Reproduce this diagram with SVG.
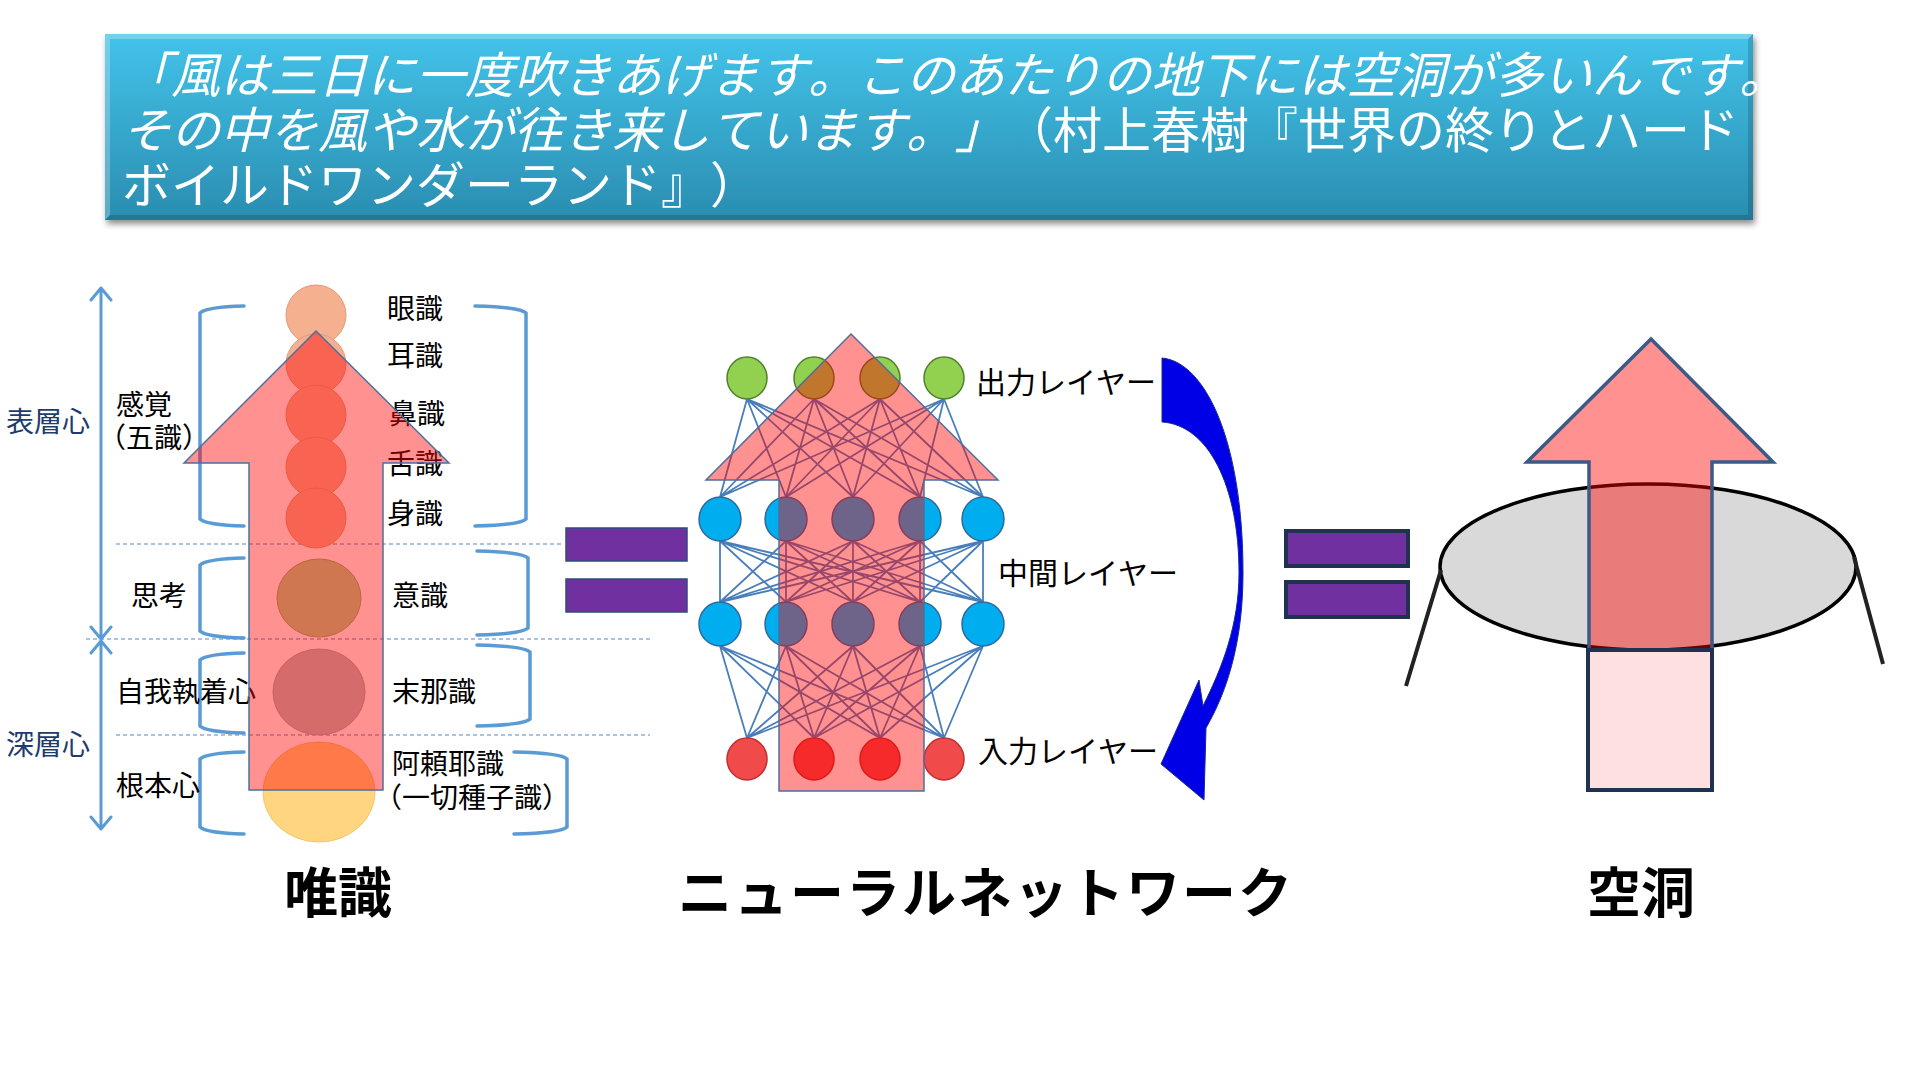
<svg xmlns="http://www.w3.org/2000/svg" width="1920" height="1080" viewBox="0 0 1920 1080">
<defs>
  <linearGradient id="bannerGrad" x1="0" y1="0" x2="0" y2="1">
    <stop offset="0" stop-color="#43c3ea"/>
    <stop offset="1" stop-color="#2a8db0"/>
  </linearGradient>
  <filter id="shadow" x="-5%" y="-10%" width="110%" height="130%">
    <feGaussianBlur in="SourceAlpha" stdDeviation="3"/>
    <feOffset dx="2" dy="4"/>
    <feComponentTransfer><feFuncA type="linear" slope="0.45"/></feComponentTransfer>
    <feMerge><feMergeNode/><feMergeNode in="SourceGraphic"/></feMerge>
  </filter>
  <style>
    text { text-spacing-trim: space-all; font-kerning: none; }
    .jp { font-family: "Noto Sans CJK JP", "Noto Sans CJK SC", sans-serif; }
    .lbl { font-size: 28px; fill: #000; }
    .nnlbl { font-size: 30px; fill: #000; }
    .layer { font-size: 28px; fill: #1f3c6e; }
    .title { font-size: 54px; font-weight: bold; fill: #000; }
    .banner { font-size: 49px; fill: #ffffff; }
    .bracket { fill: none; stroke: #5b9bd5; stroke-width: 3.5; stroke-linecap: round; }
    .axis { fill: none; stroke: #5b9bd5; stroke-width: 3; stroke-linecap: round; stroke-linejoin: round; }
    .dash { stroke: #8fb0da; stroke-width: 1.3; stroke-dasharray: 4 3; fill: none; }
    .overlay { fill: #ff0000; fill-opacity: 0.43; stroke: #4f6fa0; stroke-width: 1.5; }
    .sense { fill: #f5b090; stroke: #e39a78; stroke-width: 1; }
    .edge { fill: none; stroke: #4a7ebb; stroke-width: 1.8; }
    .green { fill: #92d050; stroke: #4f7f2f; stroke-width: 1.5; }
    .blue { fill: #00aeef; stroke: #2e6aa0; stroke-width: 1.5; }
    .red { fill: #f04a4a; stroke: #c03030; stroke-width: 1.5; }
    .eq1 { fill: #7030a0; stroke: #2f4b7c; stroke-width: 1.5; }
    .eq2 { fill: #7030a0; stroke: #1f3350; stroke-width: 4; }
  </style>
</defs>
<rect width="1920" height="1080" fill="#ffffff"/>

<!-- Banner -->
<g id="banner">
  <rect x="105" y="34" width="1648" height="186" fill="url(#bannerGrad)" filter="url(#shadow)"/>
  <path d="M105,34 H1753 L1748,39 H110 V215 L105,220 Z" fill="#ffffff" fill-opacity="0.25"/>
  <path d="M1753,34 V220 H105 L110,215 H1748 V39 Z" fill="#000000" fill-opacity="0.15"/>
  <text class="jp banner" x="122" y="93" font-style="italic">「風は三日に一度吹きあげます。このあたりの地下には空洞が多いんです。</text>
  <text class="jp banner" x="122" y="148"><tspan font-style="italic">その中を風や水が往き来しています。」</tspan>（村上春樹『世界の終りとハード</text>
  <text class="jp banner" x="122" y="203">ボイルドワンダーランド』）</text>
</g>

<!-- Left section: 唯識 -->
<g id="layer-axis">
  <line class="dash" x1="116" y1="544" x2="563" y2="544"/>
  <line class="dash" x1="86" y1="639" x2="650" y2="639"/>
  <line class="dash" x1="116" y1="735" x2="650" y2="735"/>
  <path class="axis" d="M101,288 V638 M91,300 L101,288 L111,300 M91,627 L101,639 L111,627"/>
  <path class="axis" d="M101,641 V829 M91,653 L101,641 L111,653 M91,817 L101,829 L111,817"/>
  <text class="jp layer" x="6" y="432">表層心</text>
  <text class="jp layer" x="6" y="755">深層心</text>
</g>

<g id="brackets">
  <path class="bracket" d="M244,306 Q206,307 200,313 V519 Q206,525 244,526"/>
  <path class="bracket" d="M475,306 Q520,307 526,313 V519 Q520,525 475,526"/>
  <path class="bracket" d="M244,558 Q206,559 200,565 V631 Q206,637 244,638"/>
  <path class="bracket" d="M477,551 Q522,552 528,558 V628 Q522,634 477,635"/>
  <path class="bracket" d="M244,653 Q206,654 200,660 V726 Q206,732 244,733"/>
  <path class="bracket" d="M477,645 Q524,646 530,652 V719 Q524,725 477,726"/>
  <path class="bracket" d="M244,752 Q206,753 200,759 V827 Q206,833 244,834"/>
  <path class="bracket" d="M514,752 Q561,753 567,759 V827 Q561,833 514,834"/>
</g>

<g id="circles-left">
  <g id="c-genshiki"><circle class="sense" cx="316" cy="315" r="30"/></g>
  <g id="c-nishiki"><circle class="sense" cx="316" cy="364" r="30"/></g>
  <g id="c-bishiki"><circle class="sense" cx="316" cy="415" r="30"/></g>
  <g id="c-zesshiki"><circle class="sense" cx="316" cy="467" r="30"/></g>
  <g id="c-shinshiki"><circle class="sense" cx="316" cy="518" r="30"/></g>
  <g id="c-ishiki"><ellipse cx="319" cy="598" rx="42" ry="39" fill="#a9d18e" stroke="#8fb070" stroke-width="1"/></g>
  <g id="c-manashiki"><ellipse cx="319" cy="692" rx="46" ry="43" fill="#b7bdbd" stroke="#a0a8a8" stroke-width="1"/></g>
  <g id="c-arayashiki"><ellipse cx="319" cy="792" rx="56" ry="50" fill="#ffd580" stroke="#f2c56a" stroke-width="1"/></g>
</g>

<g id="labels-left">
  <text class="jp lbl" x="116" y="415">感覚</text>
  <text class="jp lbl" x="98" y="448">（五識）</text>
  <text class="jp lbl" x="131" y="606">思考</text>
  <text class="jp lbl" x="116" y="702">自我執着心</text>
  <text class="jp lbl" x="116" y="796">根本心</text>
  <text class="jp lbl" x="387" y="319">眼識</text>
  <text class="jp lbl" x="387" y="366">耳識</text>
  <text class="jp lbl" x="389" y="424">鼻識</text>
  <text class="jp lbl" x="387" y="474">舌識</text>
  <text class="jp lbl" x="387" y="524">身識</text>
  <text class="jp lbl" x="392" y="606">意識</text>
  <text class="jp lbl" x="392" y="702">末那識</text>
  <text class="jp lbl" x="392" y="774">阿頼耶識</text>
  <text class="jp lbl" x="374" y="808">（一切種子識）</text>
</g>

<g id="arrow-left">
  <path class="overlay" d="M316,331 L449,463 L383,463 L383,790 L249,790 L249,463 L184,463 Z"/>
</g>

<!-- Equal sign 1 -->
<g id="equal-1">
  <rect class="eq1" x="566" y="528" width="121" height="33"/>
  <rect class="eq1" x="566" y="579" width="121" height="33"/>
</g>

<!-- Neural network -->
<g id="connectors">
  <path class="edge" d="M747,399L720,497M747,399L786,497M747,399L853,497M747,399L920,497M747,399L983,497M814,399L720,497M814,399L786,497M814,399L853,497M814,399L920,497M814,399L983,497M880,399L720,497M880,399L786,497M880,399L853,497M880,399L920,497M880,399L983,497M944,399L720,497M944,399L786,497M944,399L853,497M944,399L920,497M944,399L983,497"/>
  <path class="edge" d="M720,541L720,602M720,541L786,602M720,541L853,602M720,541L920,602M720,541L983,602M786,541L720,602M786,541L786,602M786,541L853,602M786,541L920,602M786,541L983,602M853,541L720,602M853,541L786,602M853,541L853,602M853,541L920,602M853,541L983,602M920,541L720,602M920,541L786,602M920,541L853,602M920,541L920,602M920,541L983,602M983,541L720,602M983,541L786,602M983,541L853,602M983,541L920,602M983,541L983,602"/>
  <path class="edge" d="M720,646L747,738M720,646L814,738M720,646L880,738M720,646L944,738M786,646L747,738M786,646L814,738M786,646L880,738M786,646L944,738M853,646L747,738M853,646L814,738M853,646L880,738M853,646L944,738M920,646L747,738M920,646L814,738M920,646L880,738M920,646L944,738M983,646L747,738M983,646L814,738M983,646L880,738M983,646L944,738"/>
</g>

<g id="nn-nodes">
  <g id="out-1"><ellipse class="green" cx="747" cy="378" rx="20" ry="21"/></g>
  <g id="out-2"><ellipse class="green" cx="814" cy="378" rx="20" ry="21"/></g>
  <g id="out-3"><ellipse class="green" cx="880" cy="378" rx="20" ry="21"/></g>
  <g id="out-4"><ellipse class="green" cx="944" cy="378" rx="20" ry="21"/></g>
  <g id="h1-1"><ellipse class="blue" cx="720" cy="519" rx="21" ry="22"/></g>
  <g id="h1-2"><ellipse class="blue" cx="786" cy="519" rx="21" ry="22"/></g>
  <g id="h1-3"><ellipse class="blue" cx="853" cy="519" rx="21" ry="22"/></g>
  <g id="h1-4"><ellipse class="blue" cx="920" cy="519" rx="21" ry="22"/></g>
  <g id="h1-5"><ellipse class="blue" cx="983" cy="519" rx="21" ry="22"/></g>
  <g id="h2-1"><ellipse class="blue" cx="720" cy="624" rx="21" ry="22"/></g>
  <g id="h2-2"><ellipse class="blue" cx="786" cy="624" rx="21" ry="22"/></g>
  <g id="h2-3"><ellipse class="blue" cx="853" cy="624" rx="21" ry="22"/></g>
  <g id="h2-4"><ellipse class="blue" cx="920" cy="624" rx="21" ry="22"/></g>
  <g id="h2-5"><ellipse class="blue" cx="983" cy="624" rx="21" ry="22"/></g>
  <g id="in-1"><ellipse class="red" cx="747" cy="759" rx="20" ry="21"/></g>
  <g id="in-2"><ellipse class="red" cx="814" cy="759" rx="20" ry="21"/></g>
  <g id="in-3"><ellipse class="red" cx="880" cy="759" rx="20" ry="21"/></g>
  <g id="in-4"><ellipse class="red" cx="944" cy="759" rx="20" ry="21"/></g>
</g>

<g id="arrow-nn">
  <path class="overlay" d="M851,334 L998,480 L924,480 L924,791 L779,791 L779,480 L706,480 Z"/>
</g>

<g id="nn-labels">
  <text class="jp nnlbl" x="976" y="393">出力レイヤー</text>
  <text class="jp nnlbl" x="998" y="584">中間レイヤー</text>
  <text class="jp nnlbl" x="978" y="762">入力レイヤー</text>
</g>

<g id="curved-arrow">
  <path d="M1162,358 C1205,362 1243,440 1243,573 C1243,640 1228,690 1206,728 L1204,800 L1161,764 L1199,680 L1203,706 C1222,668 1239,625 1239,573 C1239,485 1208,425 1162,422 Z" fill="#0000e6" stroke="#1a2a8a" stroke-width="1"/>
</g>

<!-- Equal sign 2 -->
<g id="equal-2">
  <rect class="eq2" x="1286" y="531" width="122" height="35"/>
  <rect class="eq2" x="1286" y="582" width="122" height="35"/>
</g>

<!-- Right section: 空洞 -->
<g id="cavity">
  <ellipse cx="1648" cy="567" rx="208" ry="83" fill="#d9d9d9" stroke="#000000" stroke-width="3.5"/>
  <line x1="1441" y1="570" x2="1406" y2="686" stroke="#222222" stroke-width="4"/>
  <line x1="1854" y1="557" x2="1883" y2="664" stroke="#222222" stroke-width="4"/>
</g>
<g id="arrow-right">
  <path d="M1651,339 L1773,462 L1712,462 L1712,650 L1589,650 L1589,462 L1527,462 Z" fill="#ff0000" fill-opacity="0.43" stroke="#3c5a85" stroke-width="3.5" stroke-linejoin="miter"/>
  <rect x="1588" y="650" width="124" height="140" fill="#ffe0e0" stroke="#1f3350" stroke-width="4"/>
</g>

<!-- Titles -->
<g id="titles">
  <text class="jp title" x="338" y="913" text-anchor="middle">唯識</text>
  <text class="jp title" x="986" y="913" text-anchor="middle" letter-spacing="2">ニューラルネットワーク</text>
  <text class="jp title" x="1641" y="913" text-anchor="middle">空洞</text>
</g>
</svg>
